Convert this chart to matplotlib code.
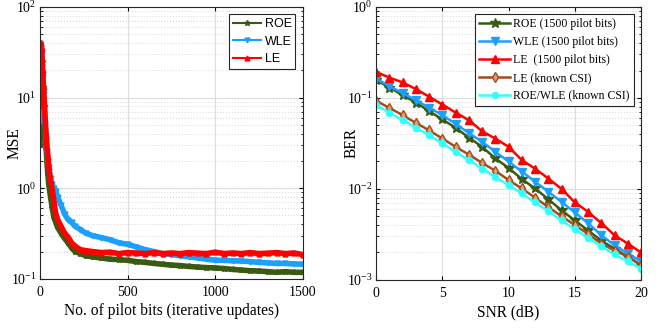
import matplotlib
matplotlib.use("Agg")
import matplotlib.pyplot as plt
from matplotlib.ticker import LogLocator, NullFormatter, MultipleLocator

# ---------------- Left panel data (MSE vs pilot bits) ----------------
pilot_bits = [0, 3, 6, 9, 12, 15, 20, 25, 30, 35, 40, 45, 50, 60, 70, 80, 90, 100,
              120, 140, 160, 180, 200, 230, 260, 300, 350, 400, 450, 500, 550, 600,
              650, 700, 750, 800, 850, 900, 950, 1000, 1050, 1100, 1150, 1200, 1250,
              1300, 1350, 1400, 1450, 1500]
mse_roe = [3.0, 15, 30, 25, 18, 13, 8, 5.5, 3.8, 2.7, 1.9, 1.4, 1.1, 0.8, 0.6, 0.47, 0.42, 0.37,
           0.32, 0.28, 0.25, 0.22, 0.20, 0.19, 0.18, 0.175, 0.17, 0.165, 0.163, 0.16, 0.155, 0.152,
           0.148, 0.145, 0.142, 0.14, 0.137, 0.135, 0.133, 0.132, 0.13, 0.127, 0.125, 0.123, 0.122,
           0.12, 0.118, 0.12, 0.118, 0.118]
mse_wle = [5.5, 20, 35, 30, 22, 17, 11, 7.5, 5.2, 3.6, 2.6, 2.0, 1.7, 1.3, 1.1, 1.0, 0.92, 0.8,
           0.65, 0.52, 0.45, 0.42, 0.38, 0.35, 0.32, 0.30, 0.285, 0.27, 0.25, 0.24, 0.225, 0.21,
           0.20, 0.19, 0.185, 0.18, 0.175, 0.17, 0.165, 0.16, 0.16, 0.158, 0.157, 0.155, 0.152,
           0.15, 0.148, 0.148, 0.146, 0.145]
mse_le = [8, 25, 40, 35, 27, 20, 13, 8.5, 5.5, 3.8, 2.8, 2.2, 1.7, 1.2, 0.95, 0.7, 0.52, 0.45,
          0.38, 0.32, 0.29, 0.25, 0.23, 0.21, 0.205, 0.20, 0.195, 0.197, 0.19, 0.195, 0.193, 0.19,
          0.195, 0.19, 0.193, 0.19, 0.195, 0.192, 0.19, 0.197, 0.19, 0.193, 0.19, 0.195, 0.19,
          0.192, 0.195, 0.19, 0.193, 0.185]

# ---------------- Right panel data (BER vs SNR) ----------------
snr_db = list(range(0, 21))
ber_roe = [0.157, 0.13, 0.107, 0.089, 0.0713, 0.058, 0.047, 0.0366, 0.029, 0.0216, 0.017,
           0.0128, 0.0101, 0.0077, 0.0058, 0.0045, 0.0035, 0.0027, 0.0022, 0.0018, 0.00145]
ber_wle = [0.163, 0.134, 0.113, 0.094, 0.078, 0.0646, 0.052, 0.041, 0.033, 0.0255, 0.020,
           0.0155, 0.012, 0.0093, 0.0072, 0.0055, 0.0042, 0.0031, 0.0024, 0.00195, 0.0016]
ber_le = [0.193, 0.167, 0.148, 0.125, 0.103, 0.0845, 0.069, 0.0569, 0.043, 0.0357, 0.029,
          0.0207, 0.0167, 0.013, 0.010, 0.0071, 0.0056, 0.0042, 0.0031, 0.0025, 0.0020]
ber_le_csi = [0.0927, 0.0776, 0.0646, 0.053, 0.044, 0.0357, 0.029, 0.0238, 0.0193, 0.0158,
              0.0125, 0.0101, 0.008, 0.0063, 0.005, 0.004, 0.0032, 0.0025, 0.0021, 0.0018, 0.00145]
ber_roewle_csi = [0.083, 0.069, 0.057, 0.047, 0.039, 0.0316, 0.0255, 0.0207, 0.0167, 0.0135,
                  0.011, 0.0089, 0.0071, 0.0057, 0.0045, 0.0036, 0.0029, 0.00234, 0.0019,
                  0.0016, 0.00133]

C_ROE = "#3a5a12"
C_WLE = "#1aa0ff"
C_LE = "#ff0000"
C_LECSI = "#a64b1a"
C_CSI = "#33ffff"

serif = ["Liberation Serif", "DejaVu Serif"]
sans = ["Liberation Sans", "DejaVu Sans"]

fig = plt.figure(figsize=(6.67, 3.3), dpi=100)
axL = fig.add_axes([0.060, 0.155, 0.394, 0.824])
axR = fig.add_axes([0.564, 0.152, 0.397, 0.827])


def style(ax):
    ax.set_yscale("log")
    ax.grid(True, which="major", color="#dddddd", linestyle="-", linewidth=0.8)
    ax.grid(True, which="minor", axis="y", color="#dddddd", linestyle=":", linewidth=0.8)
    ax.yaxis.set_minor_locator(LogLocator(base=10, subs=range(2, 10)))
    ax.yaxis.set_minor_formatter(NullFormatter())
    ax.tick_params(which="both", direction="in", top=True, right=True, labelsize=10)
    ax.tick_params(axis="x", which="both", pad=5)
    ax.tick_params(axis="y", which="both", pad=2.5)
    ax.tick_params(which="major", length=3)
    ax.tick_params(which="minor", length=1.8)
    for lab in ax.get_xticklabels() + ax.get_yticklabels():
        lab.set_family(serif)
    for s in ax.spines.values():
        s.set_color("#262626")
        s.set_linewidth(0.8)
    ax.set_axisbelow(True)


# Left panel
axL.plot(pilot_bits, mse_roe, color=C_ROE, lw=4, marker="*", ms=4, label="ROE")
axL.plot(pilot_bits, mse_wle, color=C_WLE, lw=4, marker="v", ms=3.5, label="WLE")
axL.plot(pilot_bits, mse_le, color=C_LE, lw=4, marker="^", ms=3.5, label="LE")
axL.set_xlim(0, 1500)
axL.set_ylim(0.1, 100)
axL.xaxis.set_major_locator(MultipleLocator(500))
style(axL)
axL.set_xlabel("No. of pilot bits (iterative updates)", family=serif, fontsize=11.2, labelpad=3)
axL.set_ylabel("MSE", family=serif, fontsize=11.2)
axL.yaxis.set_label_coords(-0.068, 0.5)
legL = axL.legend(loc="upper right", prop={"family": sans, "size": 9}, fancybox=False,
                  edgecolor="#262626", framealpha=1, handlelength=2.3, borderpad=0.3,
                  labelspacing=0.45, handletextpad=0.25, borderaxespad=0.6)
for h in legL.get_lines():
    h.set_linewidth(1.5)
legL.get_frame().set_linewidth(0.8)

# Right panel
axR.plot(snr_db, ber_roe, color=C_ROE, lw=1.8, marker="*", ms=7, label="ROE (1500 pilot bits)")
axR.plot(snr_db, ber_wle, color=C_WLE, lw=1.8, marker="v", ms=6, label="WLE (1500 pilot bits)")
axR.plot(snr_db, ber_le, color=C_LE, lw=1.8, marker="^", ms=6, label="LE  (1500 pilot bits)")
axR.plot(snr_db, ber_le_csi, color=C_LECSI, lw=1.8, marker="d", ms=5.5,
         mfc="#d9a070", mec=C_LECSI, label="LE (known CSI)")
axR.plot(snr_db, ber_roewle_csi, color=C_CSI, lw=1.8, marker="o", ms=4.5, label="ROE/WLE (known CSI)")
axR.set_xlim(0, 20)
axR.set_ylim(1e-3, 1)
axR.xaxis.set_major_locator(MultipleLocator(5))
style(axR)
axR.set_xlabel("SNR (dB)", family=serif, fontsize=11.2, labelpad=3)
axR.set_ylabel("BER", family=serif, fontsize=11.2)
axR.yaxis.set_label_coords(-0.064, 0.5)
legR = axR.legend(loc="upper right", prop={"family": serif, "size": 8.5}, fancybox=False,
                  edgecolor="#262626", framealpha=1, handlelength=2.6, borderpad=0.35,
                  labelspacing=0.5, handletextpad=0.3, borderaxespad=0.6)
legR.get_frame().set_linewidth(0.8)

fig.savefig("out.png", dpi=100)
